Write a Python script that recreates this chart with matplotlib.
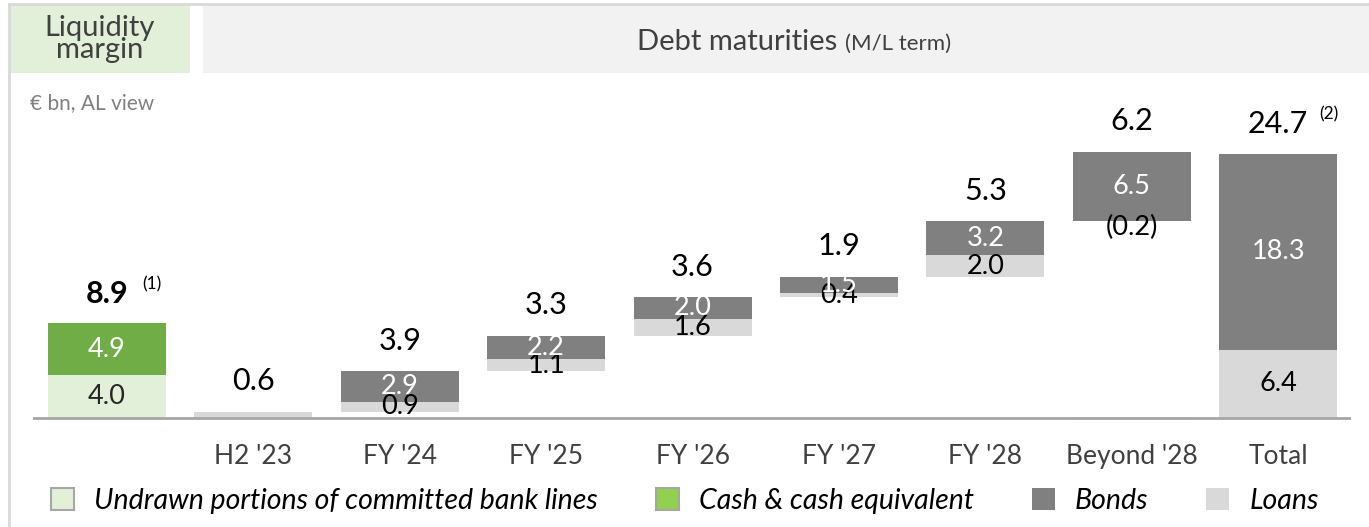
import matplotlib.pyplot as plt
import numpy as np
from matplotlib.patches import Rectangle, Patch
from matplotlib.lines import Line2D

plt.rcParams['font.family'] = ['Lato', 'DejaVu Sans']

# data (€ bn)
categories = ["H2 '23", "FY '24", "FY '25", "FY '26", "FY '27", "FY '28", "Beyond '28", "Total"]
loans = [0.6, 0.9, 1.1, 1.6, 0.4, 2.0, -0.2, 6.4]
bonds = [0.0, 2.9, 2.2, 2.0, 1.5, 3.2, 6.5, 18.3]
totals = [0.6, 3.9, 3.3, 3.6, 1.9, 5.3, 6.2, 24.7]
loan_labels = ["", "0.9", "1.1", "1.6", "0.4", "2.0", "(0.2)", "6.4"]
bond_labels = ["", "2.9", "2.2", "2.0", "1.5", "3.2", "6.5", "18.3"]

undrawn = 4.0
cash = 4.9
liquidity_total = 8.9

# colours
c_undrawn = "#E2F0D9"
c_cash = "#70AD47"
c_cash_leg = "#92D050"
c_bonds = "#808080"
c_loans = "#D9D9D9"
c_text = "#404040"

W, H = 1369, 527
fig = plt.figure(figsize=(W / 100, H / 100), dpi=100)


def fx(x):
    return x / W


def fy(y):
    return 1 - y / H


# axes placed in pixels: left 33, right 1351, top 90, bottom 430
ax = fig.add_axes([fx(33), fy(430), (1351 - 33) / W, (430 - 90) / H])
ax.set_xlim(-0.505, 8.497)
ax.set_ylim(-1.1225, 30.68)
for s in ax.spines.values():
    s.set_visible(False)
ax.set_yticks([])

bw = 0.806
xs = np.arange(1, len(categories) + 1)
loans_a = np.array(loans)
bonds_a = np.array(bonds)

# waterfall bases
step = np.clip(loans_a, 0, None) + bonds_a
base = np.concatenate([[0], np.cumsum(step[:-1])])
base[-1] = 0  # Total starts from zero

loan_bottom = np.where(loans_a >= 0, base, 0)
bond_bottom = base + np.clip(loans_a, 0, None)

# liquidity margin bar
ax.bar(0, undrawn, bw, color=c_undrawn)
ax.bar(0, cash, bw, bottom=undrawn, color=c_cash)
ax.text(0, undrawn / 2, f"{undrawn:.1f}", ha='center', va='center', fontsize=19.5, color="#262626")
ax.text(0, undrawn + cash / 2, f"{cash:.1f}", ha='center', va='center', fontsize=19.5, color='white')
ax.text(0, liquidity_total + 1.9, f"{liquidity_total:.1f}", ha='center', va='baseline',
        fontsize=22, fontweight='bold', color='black')
ax.text(0.24, liquidity_total + 3.1, "(1)", ha='left', va='baseline', fontsize=12.5, color='black')

# debt maturities
ax.bar(xs, loans_a, bw, bottom=loan_bottom, color=c_loans)
ax.bar(xs, bonds_a, bw, bottom=bond_bottom, color=c_bonds)

for i, x in enumerate(xs):
    if loan_labels[i]:
        if loans_a[i] >= 0:
            ly = base[i] + loans_a[i] / 2
        else:
            ly = base[i] - 0.55
        ax.text(x, ly, loan_labels[i], ha='center', va='center', fontsize=19.5, color='black')
    if bond_labels[i]:
        ax.text(x, bond_bottom[i] + bonds_a[i] / 2, bond_labels[i], ha='center', va='center',
                fontsize=19.5, color='white')
    top = bond_bottom[i] + bonds_a[i]
    ax.text(x, top + 2.0, f"{totals[i]:.1f}", ha='center', va='baseline', fontsize=22, color='black')

ax.text(xs[-1] + 0.28, bond_bottom[-1] + bonds_a[-1] + 3.2, "(2)", ha='left', va='baseline',
        fontsize=12.5, color='black')

ax.axhline(0, color="#A6A6A6", lw=2, zorder=3)

ax.set_xticks(xs, categories)
ax.tick_params(axis='x', length=0, pad=10, labelsize=19, labelcolor=c_text)

# header boxes and frame
fig.add_artist(Rectangle((fx(10), fy(73)), (190 - 10) / W, (73 - 5) / H,
                         transform=fig.transFigure, facecolor=c_undrawn, edgecolor='none'))
fig.add_artist(Rectangle((fx(203), fy(73)), (W - 203) / W, (73 - 5) / H,
                         transform=fig.transFigure, facecolor="#F2F2F2", edgecolor='none'))
fig.add_artist(Line2D([fx(9), 1], [fy(4), fy(4)], transform=fig.transFigure, color="#D9D9D9", lw=2))
fig.add_artist(Line2D([fx(9), fx(9)], [fy(4), 0], transform=fig.transFigure, color="#D9D9D9", lw=2))

fig.text(fx(100), fy(39), "Liquidity\nmargin", ha='center', va='center', fontsize=21,
         linespacing=0.8, color=c_text)
fig.text(fx(837), fy(50), "Debt maturities", ha='right', va='baseline', fontsize=21, color=c_text)
fig.text(fx(845), fy(50), "(M/L term)", ha='left', va='baseline', fontsize=16, color=c_text)
fig.text(fx(30), fy(109), "€ bn, AL view", ha='left', va='baseline', fontsize=15, color="#808080")

# legend
handles = [
    Patch(facecolor=c_undrawn, edgecolor="#A6A6A6", linewidth=1.5),
    Patch(facecolor=c_cash_leg, edgecolor="#A6A6A6", linewidth=1.5),
    Patch(facecolor=c_bonds, edgecolor='none'),
    Patch(facecolor=c_loans, edgecolor='none'),
]
labels = ["Undrawn portions of committed bank lines", "Cash & cash equivalent", "Bonds", "Loans"]
fig.legend(handles, labels, loc='center left', bbox_to_anchor=(fx(51), fy(501)), ncol=4,
           frameon=False, prop={'style': 'italic', 'size': 20.5}, handlelength=0.8,
           handleheight=0.8, handletextpad=0.7, columnspacing=2.05, borderpad=0,
           borderaxespad=0, labelcolor='black')

fig.savefig("out.png", dpi=100)
